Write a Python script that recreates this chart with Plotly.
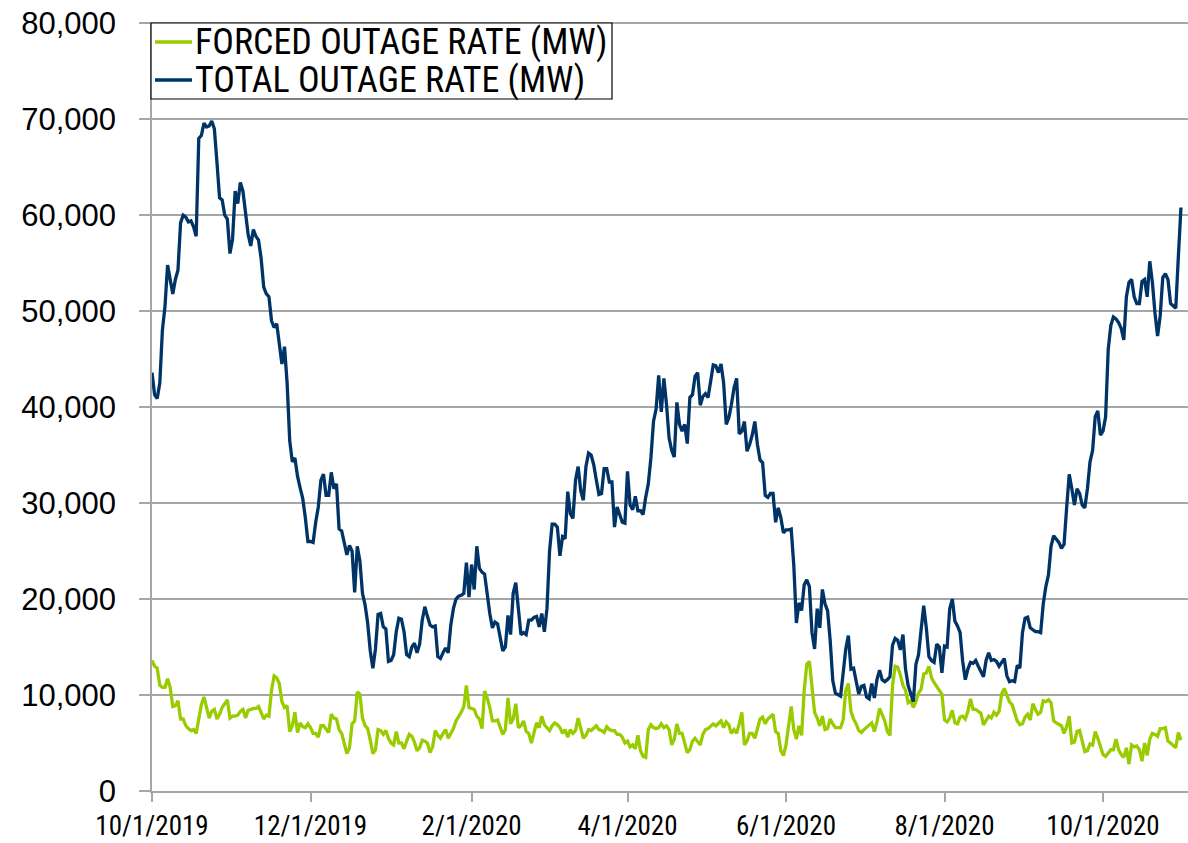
import pandas as pd
import plotly.graph_objects as go

# Daily values, thousands of MW, starting 10/1/2019
start_date = "2019-10-01"

total_outage_kmw = [
    43.6, 41.3, 40.9, 42.5, 48.0, 50.5, 54.8, 53.5, 51.8, 53.3,
    54.3, 59.2, 60.0, 59.8, 59.3, 59.4, 58.8, 57.8, 68.0, 68.3,
    69.6, 69.2, 69.3, 69.8, 69.0, 65.5, 61.8, 61.6, 60.0, 59.6,
    56.0, 57.5, 62.5, 61.2, 63.4, 62.5, 60.5, 58.0, 56.8, 58.5,
    57.8, 57.4, 55.5, 52.5, 51.8, 51.5, 49.0, 48.3, 48.7, 46.5,
    44.5, 46.3, 42.5, 36.5, 34.3, 34.7, 32.8, 31.6, 30.5, 28.5,
    26.0, 26.0, 25.9, 28.0, 29.6, 32.4, 33.0, 30.8, 30.8, 33.2,
    31.5, 32.0, 27.3, 27.1, 25.9, 24.6, 25.6, 25.0, 20.7, 25.5,
    24.0, 20.6, 19.4, 17.5, 14.6, 12.8, 14.8, 18.4, 18.5, 17.1,
    16.9, 13.5, 13.6, 14.2, 16.6, 18.0, 17.9, 16.6, 14.2, 14.0,
    15.0, 15.4, 14.4, 15.3, 17.8, 19.2, 18.2, 17.3, 17.1, 17.2,
    14.0, 13.8, 14.4, 14.9, 14.4, 17.3, 19.0, 20.0, 20.3, 20.4,
    20.6, 23.8, 20.2, 23.6, 21.0, 25.5, 23.2, 22.8, 22.6, 20.5,
    18.5, 17.0, 17.6, 17.4, 16.0, 14.6, 15.0, 18.3, 16.3, 20.6,
    21.7, 18.8, 16.3, 16.5, 16.3, 17.8, 17.8, 18.1, 18.2, 17.1,
    18.5, 16.6, 19.0, 25.0, 27.8, 27.8, 27.5, 24.5, 26.5, 26.3,
    31.2, 28.9, 28.4, 32.4, 33.8, 31.3, 30.3, 33.8, 35.2, 35.0,
    34.0, 32.4, 30.9, 31.0, 33.6, 33.6, 32.2, 32.2, 27.5, 29.6,
    28.7, 28.0, 27.9, 33.3, 29.8, 29.3, 30.7, 29.2, 29.2, 28.8,
    30.6, 32.0, 34.7, 38.5, 39.8, 43.3, 39.5, 43.0, 40.3, 36.8,
    35.5, 34.8, 40.5, 38.2, 37.5, 38.2, 36.2, 41.0, 41.3, 43.2,
    43.6, 40.2, 41.1, 41.4, 41.0, 42.5, 44.4, 44.3, 43.6, 44.5,
    42.5, 38.2, 38.9, 40.3, 42.0, 43.0, 37.2, 37.5, 38.5, 35.4,
    36.1, 37.1, 38.5, 36.1, 34.5, 34.2, 30.8, 30.6, 31.0, 31.0,
    28.0, 29.5, 28.5, 26.9, 27.2, 27.2, 27.3, 23.5, 17.5, 19.6,
    18.8, 21.5, 22.0, 21.3, 16.5, 14.8, 19.0, 17.0, 21.0, 19.5,
    18.8, 15.7, 11.5, 10.2, 10.0, 9.9, 12.3, 14.8, 16.2, 12.7,
    12.8, 11.5, 10.1, 10.9, 11.0, 9.8, 9.6, 11.2, 9.7, 11.6,
    12.6, 11.6, 11.4, 11.6, 11.9, 15.2, 15.9, 15.7, 14.7, 16.3,
    12.7, 11.0, 10.1, 9.3, 13.2, 14.2, 16.8, 19.3, 17.0, 14.0,
    13.6, 13.4, 15.3, 15.0, 12.3, 15.1, 15.0, 19.0, 20.0, 17.7,
    17.2, 16.5, 13.5, 11.6, 12.7, 13.4, 13.3, 13.6, 13.0, 12.4,
    11.9, 13.6, 14.4, 13.6, 13.7, 13.5, 13.0, 13.4, 13.8, 12.0,
    11.4, 11.5, 11.4, 13.1, 12.8, 16.5, 18.0, 18.1, 17.0, 16.8,
    16.6, 16.6, 16.5, 19.5, 21.3, 22.5, 25.5, 26.6, 26.3, 25.9,
    25.3, 25.7, 29.5, 33.0, 31.5, 29.8, 31.5, 31.0, 29.8, 29.5,
    31.5, 34.3, 35.5, 39.0, 39.6, 37.1, 37.5, 39.0, 46.0, 48.5,
    49.4, 49.2, 48.8, 48.2, 47.0, 51.5, 53.0, 53.3, 51.5, 50.8,
    50.8, 53.1, 53.3, 51.5, 55.2, 53.0, 49.8, 47.4, 49.5, 53.5,
    53.9, 53.3, 50.8, 50.6, 50.3, 55.7, 60.8,
]

forced_outage_kmw = [
    13.6, 13.0, 12.8, 11.0, 10.8, 10.8, 11.7, 10.8, 8.8, 8.9,
    9.4, 7.5, 7.5, 6.8, 6.5, 6.3, 6.4, 6.0, 7.5, 9.0,
    9.8, 8.6, 7.6, 8.3, 8.5, 7.5, 8.0, 8.7, 9.1, 9.5,
    7.6, 7.8, 7.8, 7.9, 8.3, 8.5, 7.6, 8.4, 8.5, 8.6,
    8.6, 8.8, 8.2, 7.5, 7.9, 7.8, 10.5, 12.0, 11.8, 11.2,
    9.3, 8.7, 8.9, 6.2, 6.8, 8.2, 6.1, 7.1, 6.7, 6.6,
    7.0, 6.6, 6.0, 6.0, 5.6, 6.8, 6.8, 6.4, 6.1, 8.0,
    7.6, 7.5, 6.4, 6.0, 4.8, 3.9, 4.5, 7.0, 7.3, 10.3,
    10.1, 7.6, 6.8, 6.5, 5.3, 3.9, 4.3, 6.4, 6.3, 5.9,
    6.3, 5.5, 5.0, 4.8, 6.2, 5.0, 5.0, 4.4, 5.2, 5.9,
    5.7, 5.1, 4.2, 4.5, 5.3, 5.2, 5.0, 4.0, 4.6, 6.3,
    5.8, 5.5, 6.0, 6.4, 5.5, 6.0, 6.5, 7.3, 7.7, 8.2,
    8.8, 11.0, 8.7, 8.6, 8.5, 7.8, 7.5, 6.5, 10.4, 9.7,
    8.7, 7.3, 7.3, 7.4, 6.6, 5.9, 6.4, 9.7, 7.0, 7.5,
    9.1, 6.6, 6.8, 7.3, 6.2, 6.0, 5.0, 6.2, 7.1, 6.6,
    7.8, 6.9, 6.6, 6.3, 6.8, 7.1, 6.9, 6.6, 6.0, 6.4,
    5.6, 6.4, 6.0, 6.3, 7.6, 6.5, 5.5, 5.8, 6.4, 6.3,
    6.5, 6.8, 6.4, 6.3, 6.1, 6.7, 6.4, 6.3, 6.3, 5.9,
    5.9, 5.6, 5.0, 5.2, 4.6, 4.8, 4.4, 5.8, 4.2, 3.6,
    3.5, 6.4, 6.9, 6.6, 6.5, 6.6, 7.0, 6.6, 6.8, 6.4,
    4.8, 5.4, 7.0, 6.0, 6.0, 5.0, 4.0, 4.3, 5.2, 5.5,
    5.2, 4.8, 5.9, 6.4, 6.5, 6.8, 7.0, 6.8, 7.0, 7.3,
    6.6, 7.2, 6.9, 6.0, 6.4, 6.0, 7.0, 8.2, 4.8, 5.2,
    6.0, 6.0, 5.5, 6.4, 7.5, 7.7, 7.0, 7.5, 7.8, 8.0,
    6.2, 6.0, 4.2, 3.7, 4.8, 6.6, 8.8, 6.4, 5.4, 6.8,
    5.8, 10.5, 13.2, 13.5, 10.6, 8.2, 7.6, 6.8, 7.8, 6.4,
    6.5, 7.5, 7.0, 6.6, 6.6, 6.6, 7.4, 10.5, 11.2, 8.3,
    7.5, 7.0, 6.3, 6.1, 6.4, 6.6, 6.8, 7.1, 6.2, 7.2,
    8.6, 8.0, 7.3, 6.2, 5.8, 11.0, 13.0, 12.9, 12.1, 11.0,
    10.5, 9.2, 9.4, 8.7, 9.3, 10.2, 10.6, 12.2, 12.3, 13.0,
    11.8, 11.3, 10.9, 10.4, 10.1, 7.4, 7.2, 7.6, 8.4, 7.1,
    7.0, 7.7, 7.8, 7.5, 8.3, 9.6, 8.5, 8.5, 8.3, 8.1,
    6.9, 7.3, 7.8, 7.6, 8.2, 7.9, 8.3, 10.1, 10.7, 10.0,
    9.3, 9.0, 8.2, 7.3, 6.9, 7.0, 7.7, 8.0, 7.4, 9.1,
    8.5, 8.0, 8.2, 9.4, 9.3, 9.5, 9.2, 7.3, 7.1, 6.9,
    6.8, 6.0, 6.7, 7.8, 5.0, 5.1, 6.2, 6.3, 5.0, 4.1,
    4.2, 4.9, 4.8, 6.2, 5.5, 4.6, 3.8, 3.6, 4.0, 4.3,
    4.3, 5.4, 4.3, 3.8, 3.5, 4.5, 2.8, 4.8, 4.6, 4.7,
    4.3, 3.1, 5.0, 3.7, 5.4, 6.0, 5.9, 5.7, 6.5, 6.5,
    6.6, 5.2, 5.0, 4.8, 4.5, 6.1, 5.3,
]

x_tick_dates = ["2019-10-01", "2019-12-01", "2020-02-01", "2020-04-01",
                "2020-06-01", "2020-08-01", "2020-10-01"]
y_tick_values = [0, 10000, 20000, 30000, 40000, 50000, 60000, 70000, 80000]

series_names = ["FORCED OUTAGE RATE (MW)", "TOTAL OUTAGE RATE (MW)"]
series_colors = ["#99CC00", "#003366"]

dates = pd.date_range(start_date, periods=len(total_outage_kmw), freq="D")
forced = [v * 1000 for v in forced_outage_kmw]
total = [v * 1000 for v in total_outage_kmw]

tick_dt = pd.to_datetime(x_tick_dates)
tick_text = [f"{d.month}/{d.day}/{d.year}" for d in tick_dt]

NARROW = "Roboto Condensed, Liberation Sans, Arial, sans-serif"
REGULAR = "Liberation Sans, Arial, sans-serif"
GRID = "#A6A6A6"

# Figure geometry (page body margin removed by post_script)
FIG_W, FIG_H = 1188, 843
M_L, M_R, M_T, M_B = 152, 0, 22, 52
PLOT_W = FIG_W - M_L - M_R
PLOT_H = FIG_H - M_T - M_B


def px_x(p):  # figure pixel -> paper x
    return (p - M_L) / PLOT_W


def px_y(p):  # figure pixel -> paper y
    return (FIG_H - M_B - p) / PLOT_H


fig = go.Figure()
for name, vals, col in zip(series_names, [forced, total], series_colors):
    fig.add_trace(go.Scatter(x=dates, y=vals, mode="lines", name=name,
                             line=dict(color=col, width=3.3), showlegend=False))

# Legend box drawn as layout shapes + text
leg_left, leg_right, leg_top, leg_bottom = 151, 612, 23, 99
row_y = [42, 80]
shapes = [dict(type="rect", xref="paper", yref="paper",
               x0=px_x(leg_left), x1=px_x(leg_right), y0=px_y(leg_bottom), y1=px_y(leg_top),
               line=dict(color="black", width=1.2), fillcolor="white", layer="above")]
annotations = []
for name, col, ry in zip(series_names, series_colors, row_y):
    shapes.append(dict(type="line", xref="paper", yref="paper",
                       x0=px_x(155), x1=px_x(192), y0=px_y(ry), y1=px_y(ry),
                       line=dict(color=col, width=3.5), layer="above"))
    annotations.append(dict(xref="paper", yref="paper", x=px_x(193), y=px_y(ry),
                            xanchor="left", yanchor="middle", showarrow=False,
                            text=name, font=dict(family=NARROW, size=36, color="black")))

fig.update_layout(
    width=FIG_W, height=FIG_H,
    margin=dict(l=M_L, r=M_R, t=M_T, b=M_B, autoexpand=False),
    paper_bgcolor="white", plot_bgcolor="white",
    font=dict(family=REGULAR, size=30, color="black"),
    showlegend=False,
    shapes=shapes,
    annotations=annotations,
    xaxis=dict(
        range=["2019-10-01", "2020-11-02 17:00"],
        tickvals=tick_dt, ticktext=tick_text,
        showgrid=False, zeroline=False,
        showline=True, linecolor=GRID, linewidth=1.5,
        ticks="outside", ticklen=9, tickwidth=1.5, tickcolor=GRID,
        ticklabelstandoff=1,
        tickfont=dict(family=NARROW, size=27, color="black"),
        automargin=False,
    ),
    yaxis=dict(
        range=[0, 80130],
        tickvals=y_tick_values, tickformat=",d",
        showgrid=True, gridcolor=GRID, gridwidth=1.5,
        zeroline=False,
        showline=True, linecolor=GRID, linewidth=1.5,
        ticks="outside", ticklen=11, tickwidth=1.5, tickcolor=GRID,
        ticklabelstandoff=17, ticklabeloverflow="allow",
        tickfont=dict(family=REGULAR, size=31, color="black"),
        automargin=False,
    ),
)

fig.write_html("out.html",
               config={"displayModeBar": False},
               post_script="document.body.style.margin='0';document.body.style.padding='0';")
